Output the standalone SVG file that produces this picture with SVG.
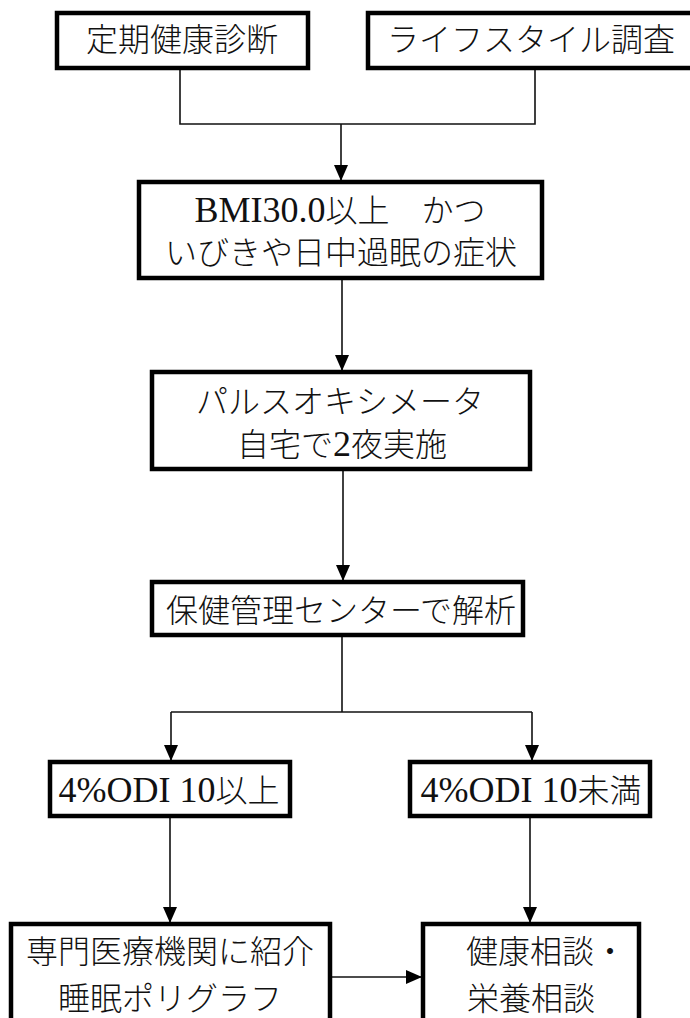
<svg xmlns="http://www.w3.org/2000/svg" width="690" height="1018" viewBox="0 0 690 1018">
<style>
.box{fill:#fff;stroke:#000;stroke-width:4.5}
.t{font-family:"Liberation Serif","Noto Sans CJK JP",serif;font-size:32px;font-weight:300;fill:#111;text-anchor:middle}
.l{font-size:36px;font-weight:400}
.c{fill:none;stroke:#111;stroke-width:1.6}
</style>
<defs>
<marker id="ah" markerUnits="userSpaceOnUse" markerWidth="16" markerHeight="18" refX="16" refY="7" orient="auto">
<path d="M0,0 L16,7 L0,14 Z" fill="#000"/>
</marker>
</defs>
<rect width="690" height="1018" fill="#fff"/>
<g id="connectors">
<polyline class="c" points="180,68 180,124 535,124 535,68"/>
<line class="c" x1="341" y1="124" x2="341" y2="181" marker-end="url(#ah)"/>
<line class="c" x1="342" y1="278" x2="342" y2="371" marker-end="url(#ah)"/>
<line class="c" x1="343" y1="470" x2="343" y2="581" marker-end="url(#ah)"/>
<line class="c" x1="342" y1="636" x2="342" y2="712"/>
<line class="c" x1="171" y1="712" x2="532" y2="712"/>
<line class="c" x1="171" y1="712" x2="171" y2="761" marker-end="url(#ah)"/>
<line class="c" x1="532" y1="712" x2="532" y2="761" marker-end="url(#ah)"/>
<line class="c" x1="170" y1="817" x2="170" y2="923" marker-end="url(#ah)"/>
<line class="c" x1="530" y1="817" x2="530" y2="923" marker-end="url(#ah)"/>
<line class="c" x1="331" y1="977" x2="422" y2="977" marker-end="url(#ah)"/>
</g>
<g id="n1">
<rect class="box" x="57" y="13" width="251" height="55"/>
<text class="t" x="182" y="51">定期健康診断</text>
</g>
<g id="n2">
<rect class="box" x="368" y="13" width="340" height="55"/>
<text class="t" x="531" y="51">ライフスタイル調査</text>
</g>
<g id="n3">
<rect class="box" x="139" y="182" width="403" height="96"/>
<text class="t" x="340" y="222"><tspan class="l">BMI30.0</tspan>以上　かつ</text>
<text class="t" x="341" y="264">いびきや日中過眠の症状</text>
</g>
<g id="n4">
<rect class="box" x="152" y="372" width="378" height="97"/>
<text class="t" x="340" y="413">パルスオキシメータ</text>
<text class="t" x="342" y="456">自宅で<tspan class="l">2</tspan>夜実施</text>
</g>
<g id="n5">
<rect class="box" x="152" y="582" width="371" height="53"/>
<text class="t" x="341" y="622">保健管理センターで解析</text>
</g>
<g id="n6">
<rect class="box" x="50" y="762" width="240" height="54"/>
<text class="t" x="169" y="802"><tspan class="l">4%ODI 10</tspan>以上</text>
</g>
<g id="n7">
<rect class="box" x="410" y="762" width="240" height="54"/>
<text class="t" x="531" y="802"><tspan class="l">4%ODI 10</tspan>未満</text>
</g>
<g id="n8">
<rect class="box" x="11" y="924" width="319" height="110"/>
<text class="t" x="170" y="963">専門医療機関に紹介</text>
<text class="t" x="170" y="1010">睡眠ポリグラフ</text>
</g>
<g id="n9">
<rect class="box" x="423" y="924" width="216" height="110"/>
<text class="t" x="466" y="963" style="text-anchor:start">健康相談・</text>
<text class="t" x="467" y="1010" style="text-anchor:start">栄養相談</text>
</g>
</svg>
